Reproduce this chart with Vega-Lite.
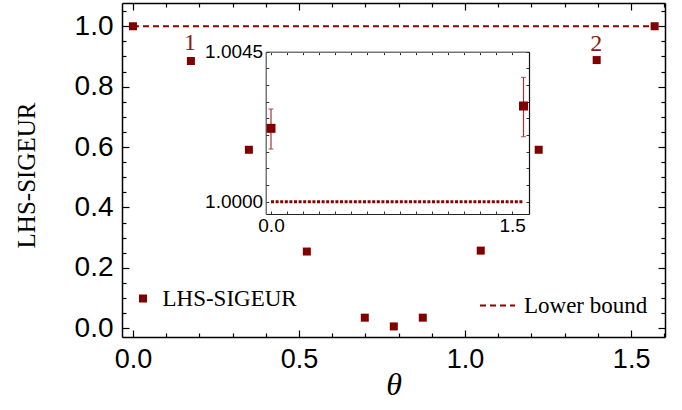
{
  "$schema": "https://vega.github.io/schema/vega-lite/v6.json",
  "width": 543,
  "height": 334,
  "autosize": "none",
  "padding": {"left": 122, "top": 3, "right": 17, "bottom": 73},
  "background": "white",
  "config": {
    "view": {"stroke": null},
    "axis": {"grid": false, "domainColor": "black", "tickColor": "black", "labelColor": "black", "labelFont": "Liberation Sans", "titleFont": "Liberation Serif", "titleColor": "black", "titleFontWeight": "normal", "domainWidth": 1.5, "tickWidth": 1.2}
  },
  "datasets": {
    "main": [
      {"theta": 0.0, "value": 1.0},
      {"theta": 0.1745, "value": 0.885},
      {"theta": 0.3491, "value": 0.591},
      {"theta": 0.5236, "value": 0.254},
      {"theta": 0.6981, "value": 0.035},
      {"theta": 0.7854, "value": 0.006},
      {"theta": 0.8727, "value": 0.035},
      {"theta": 1.0472, "value": 0.257},
      {"theta": 1.2217, "value": 0.591},
      {"theta": 1.3963, "value": 0.888},
      {"theta": 1.5708, "value": 1.0}
    ],
    "bound": [
      {"theta": 0.0, "value": 1.0},
      {"theta": 1.5708, "value": 1.0}
    ],
    "notes": [
      {"theta": 0.172, "value": 0.945, "label": "1"},
      {"theta": 1.395, "value": 0.94, "label": "2"}
    ],
    "inset": [
      {"theta": 0.0, "value": 1.0022, "lo": 1.00158, "hi": 1.00278},
      {"theta": 1.5708, "value": 1.00287, "lo": 1.00195, "hi": 1.00373}
    ]
  },
  "layer": [
    {
      "data": {"name": "bound"},
      "mark": {"type": "line", "color": "#8b0000", "strokeWidth": 2.2},
      "encoding": {
        "x": {"field": "theta", "type": "quantitative", "scale": {"domain": [-0.033, 1.602], "nice": false, "zero": false}, "axis": null},
        "y": {"field": "value", "type": "quantitative", "scale": {"domain": [-0.029, 1.077], "nice": false, "zero": false}, "axis": null},
        "strokeDash": {"datum": "Lower bound", "type": "nominal", "scale": {"range": [[6, 4]]},
          "legend": {"orient": "none", "legendX": 357, "legendY": 284, "title": null, "symbolType": "stroke", "symbolSize": 1225, "symbolStrokeColor": "#8b0000", "symbolStrokeWidth": 2, "labelFont": "Liberation Serif", "labelFontSize": 23, "labelColor": "black", "labelOffset": 8, "padding": 0}}
      }
    },
    {
      "data": {"name": "main"},
      "mark": {"type": "point", "shape": "square", "filled": true, "size": 64, "opacity": 1},
      "encoding": {
        "x": {"field": "theta", "type": "quantitative", "scale": {"domain": [-0.033, 1.602], "nice": false, "zero": false},
          "axis": {"orient": "bottom", "values": [0, 0.5, 1, 1.5], "format": ".1f", "tickSize": -7, "labelPadding": 16, "labelFontSize": 27, "labelOverlap": false, "title": "θ", "titleFontStyle": "italic", "titleFontSize": 32, "titleY": 47, "titleBaseline": "middle"}},
        "y": {"field": "value", "type": "quantitative", "scale": {"domain": [-0.029, 1.077], "nice": false, "zero": false},
          "axis": {"orient": "left", "values": [0, 0.2, 0.4, 0.6, 0.8, 1.0], "format": ".1f", "tickSize": -7, "labelPadding": 16, "labelFontSize": 28, "labelOverlap": false, "title": "LHS-SIGEUR", "titleFontSize": 25, "titleX": -96, "titleY": 172, "titleBaseline": "middle"}},
        "color": {"datum": "LHS-SIGEUR", "type": "nominal", "scale": {"range": ["#800000"]},
          "legend": {"orient": "none", "legendX": 9.5, "legendY": 284, "title": null, "symbolType": "square", "symbolSize": 64, "symbolOpacity": 1, "labelFont": "Liberation Serif", "labelFontSize": 23, "labelColor": "black", "labelOffset": 8, "padding": 0}}
      }
    },
    {
      "data": {"name": "main"},
      "mark": {"type": "point", "opacity": 0},
      "encoding": {
        "x": {"field": "theta", "type": "quantitative", "scale": {"domain": [-0.033, 1.602], "nice": false, "zero": false},
          "axis": {"orient": "top", "values": [0, 0.5, 1, 1.5], "labels": false, "tickSize": -7, "title": null}},
        "y": {"field": "value", "type": "quantitative", "scale": {"domain": [-0.029, 1.077], "nice": false, "zero": false},
          "axis": {"orient": "right", "values": [0, 0.2, 0.4, 0.6, 0.8, 1.0], "labels": false, "tickSize": -7, "title": null}}
      }
    },
    {
      "data": {"name": "main"},
      "mark": {"type": "point", "opacity": 0},
      "encoding": {
        "x": {"field": "theta", "type": "quantitative", "scale": {"domain": [-0.033, 1.602], "nice": false, "zero": false},
          "axis": {"orient": "bottom", "values": [0.1, 0.2, 0.3, 0.4, 0.6, 0.7, 0.8, 0.9, 1.1, 1.2, 1.3, 1.4, 1.6], "labels": false, "domain": false, "tickSize": -4, "title": null}},
        "y": {"field": "value", "type": "quantitative", "scale": {"domain": [-0.029, 1.077], "nice": false, "zero": false},
          "axis": {"orient": "left", "values": [0.05, 0.1, 0.15, 0.25, 0.3, 0.35, 0.45, 0.5, 0.55, 0.65, 0.7, 0.75, 0.85, 0.9, 0.95, 1.05], "labels": false, "domain": false, "tickSize": -4, "title": null}}
      }
    },
    {
      "data": {"name": "main"},
      "mark": {"type": "point", "opacity": 0},
      "encoding": {
        "x": {"field": "theta", "type": "quantitative", "scale": {"domain": [-0.033, 1.602], "nice": false, "zero": false},
          "axis": {"orient": "top", "values": [0.1, 0.2, 0.3, 0.4, 0.6, 0.7, 0.8, 0.9, 1.1, 1.2, 1.3, 1.4, 1.6], "labels": false, "domain": false, "tickSize": -4, "title": null}},
        "y": {"field": "value", "type": "quantitative", "scale": {"domain": [-0.029, 1.077], "nice": false, "zero": false},
          "axis": {"orient": "right", "values": [0.05, 0.1, 0.15, 0.25, 0.3, 0.35, 0.45, 0.5, 0.55, 0.65, 0.7, 0.75, 0.85, 0.9, 0.95, 1.05], "labels": false, "domain": false, "tickSize": -4, "title": null}}
      }
    },
    {
      "data": {"name": "notes"},
      "mark": {"type": "text", "font": "Liberation Serif", "fontSize": 24, "color": "#8b1a1a", "baseline": "middle", "align": "center"},
      "encoding": {
        "x": {"field": "theta", "type": "quantitative", "scale": {"domain": [-0.033, 1.602], "nice": false, "zero": false}, "axis": null},
        "y": {"field": "value", "type": "quantitative", "scale": {"domain": [-0.029, 1.077], "nice": false, "zero": false}, "axis": null},
        "text": {"field": "label"}
      }
    },
    {
      "layer": [
        {
          "data": {"name": "bound"},
          "mark": {"type": "line", "color": "#8b0000", "strokeWidth": 3, "strokeDash": [3, 1.6]},
          "encoding": {
            "x": {"field": "theta", "type": "quantitative"},
            "y": {"field": "value", "type": "quantitative"}
          }
        },
        {
          "data": {"name": "inset"},
          "mark": {"type": "errorbar", "ticks": {"size": 5}, "color": "#a83232", "thickness": 1.2},
          "encoding": {
            "x": {"field": "theta", "type": "quantitative"},
            "y": {"field": "lo", "type": "quantitative"},
            "y2": {"field": "hi"}
          }
        },
        {
          "data": {"name": "inset"},
          "mark": {"type": "point", "shape": "square", "filled": true, "size": 81, "opacity": 1, "color": "#800000"},
          "encoding": {
            "x": {"field": "theta", "type": "quantitative",
              "scale": {"domain": [-0.033, 1.605], "range": [143.7, 407], "nice": false, "zero": false},
              "axis": {"orient": "bottom", "offset": -123, "values": [0, 1.5], "format": ".1f", "labelOverlap": false, "labelFlush": false, "labelBound": false, "tickSize": -3, "labelPadding": 5, "labelFontSize": 19, "title": null, "domainColor": "#222", "domainWidth": 1.2, "tickColor": "#333", "tickWidth": 1}},
            "y": {"field": "value", "type": "quantitative",
              "scale": {"domain": [0.99963, 1.0045], "range": [211, 48.7], "nice": false, "zero": false},
              "axis": {"orient": "left", "offset": -143.7, "values": [1.0, 1.0045], "format": ".4f", "labelOverlap": false, "labelFlush": false, "labelBound": false, "tickSize": -3, "labelPadding": 6, "labelFontSize": 19, "title": null, "domainColor": "#555", "domainWidth": 1.2, "tickColor": "#333", "tickWidth": 1}}
          }
        }
      ]
    },
    {
      "data": {"name": "inset"},
      "mark": {"type": "point", "opacity": 0},
      "encoding": {
        "x": {"field": "theta", "type": "quantitative",
          "scale": {"domain": [-0.033, 1.605], "range": [143.7, 407], "nice": false, "zero": false},
          "axis": {"orient": "bottom", "offset": -123, "values": [0.1, 0.2, 0.3, 0.4, 0.5, 0.6, 0.7, 0.8, 0.9, 1.0, 1.1, 1.2, 1.3, 1.4], "labels": false, "domain": false, "tickSize": -3, "title": null, "tickColor": "#333", "tickWidth": 1}},
        "y": {"field": "value", "type": "quantitative",
          "scale": {"domain": [0.99963, 1.0045], "range": [211, 48.7], "nice": false, "zero": false},
          "axis": {"orient": "left", "offset": -143.7, "values": [1.0005, 1.001, 1.0015, 1.002, 1.0025, 1.003, 1.0035, 1.004], "labels": false, "domain": false, "tickSize": -3, "title": null, "tickColor": "#333", "tickWidth": 1}}
      }
    },
    {
      "data": {"name": "inset"},
      "mark": {"type": "point", "opacity": 0},
      "encoding": {
        "x": {"field": "theta", "type": "quantitative",
          "scale": {"domain": [-0.033, 1.605], "range": [143.7, 407], "nice": false, "zero": false},
          "axis": {"orient": "top", "offset": -48.7, "values": [0, 0.1, 0.2, 0.3, 0.4, 0.5, 0.6, 0.7, 0.8, 0.9, 1.0, 1.1, 1.2, 1.3, 1.4, 1.5], "labels": false, "tickSize": -3, "title": null, "domainColor": "#777", "domainWidth": 1.5, "tickColor": "#333", "tickWidth": 1}},
        "y": {"field": "value", "type": "quantitative",
          "scale": {"domain": [0.99963, 1.0045], "range": [211, 48.7], "nice": false, "zero": false},
          "axis": {"orient": "right", "offset": -136, "values": [1.0, 1.0005, 1.001, 1.0015, 1.002, 1.0025, 1.003, 1.0035, 1.004, 1.0045], "labels": false, "tickSize": -3, "title": null, "domainColor": "#111", "domainWidth": 1.2, "tickColor": "#333", "tickWidth": 1}}
      }
    }
  ],
  "resolve": {
    "scale": {"x": "independent", "y": "independent", "color": "independent", "strokeDash": "independent"},
    "axis": {"x": "independent", "y": "independent"}
  }
}
